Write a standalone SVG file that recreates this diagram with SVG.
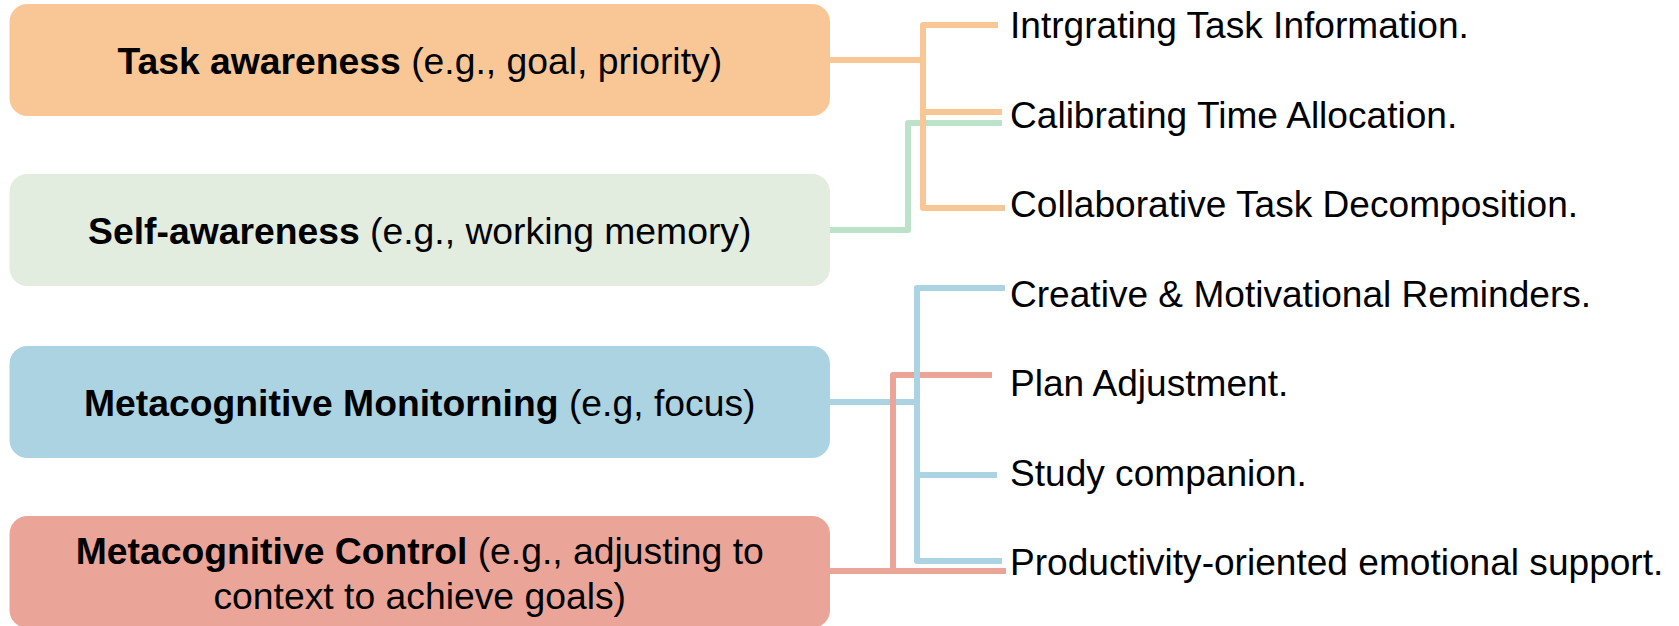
<svg xmlns="http://www.w3.org/2000/svg" width="1679" height="626" viewBox="0 0 1679 626">
<style>
.box{stroke:none}
.bt{font-family:"Liberation Sans",Arial,sans-serif;font-size:37.3px;fill:#000;text-anchor:middle}
.bt .b{font-weight:bold}
.lt{font-family:"Liberation Sans",Arial,sans-serif;font-size:37.1px;fill:#000}
.c{fill:none;stroke-width:6;stroke-linejoin:round;stroke-linecap:butt}
.co{stroke:#F9C796}
.cg{stroke:#BCE2CA}
.cb{stroke:#ABD3E1}
.cr{stroke:#EBA598}
</style>
<rect width="1679" height="626" fill="#fff"/>
<g id="connectors">
  <path class="c cg" d="M830 230 H908 V123 H1002"/>
  <path class="c co" d="M830 60 H923"/>
  <path class="c co" d="M998 25 H923 V208 H1005"/>
  <path class="c co" d="M923 112 H1002"/>
  <path class="c cb" d="M830 402 H917"/>
  <path class="c cr" d="M992 375 H893 V571"/>
  <path class="c cr" d="M830 571 H1006"/>
  <path class="c cb" d="M1005 288 H917 V561 H1002"/>
  <path class="c cb" d="M917 475 H997"/>
</g>
<g id="node-task">
  <rect class="box" x="9.5" y="4" width="820.5" height="112" rx="18" fill="#F9C796"/>
  <text class="bt" x="419.75" y="74"><tspan class="b">Task awareness</tspan> (e.g., goal, priority)</text>
</g>
<g id="node-self">
  <rect class="box" x="9.5" y="174" width="820.5" height="112" rx="18" fill="#E2ECDF"/>
  <text class="bt" x="419.75" y="243.5"><tspan class="b">Self-awareness</tspan> (e.g., working memory)</text>
</g>
<g id="node-monitoring">
  <rect class="box" x="9.5" y="346" width="820.5" height="112" rx="18" fill="#ABD3E1"/>
  <text class="bt" x="419.75" y="415.5"><tspan class="b">Metacognitive Monitorning</tspan> (e.g, focus)</text>
</g>
<g id="node-control">
  <rect class="box" x="9.5" y="516" width="820.5" height="112" rx="18" fill="#EBA598"/>
  <text class="bt" x="419.75" y="564"><tspan class="b">Metacognitive Control</tspan> (e.g., adjusting to</text>
  <text class="bt" x="419.75" y="608.5">context to achieve goals)</text>
</g>
<g id="leaf-1"><text class="lt" x="1010" y="37.5">Intrgrating Task Information.</text></g>
<g id="leaf-2"><text class="lt" x="1010" y="127.5">Calibrating Time Allocation.</text></g>
<g id="leaf-3"><text class="lt" x="1010" y="216.5">Collaborative Task Decomposition.</text></g>
<g id="leaf-4"><text class="lt" x="1010" y="306.5">Creative &amp; Motivational Reminders.</text></g>
<g id="leaf-5"><text class="lt" x="1010" y="395.5">Plan Adjustment.</text></g>
<g id="leaf-6"><text class="lt" x="1010" y="485.5">Study companion.</text></g>
<g id="leaf-7"><text class="lt" x="1010" y="574.5">Productivity-oriented emotional support.</text></g>
</svg>
